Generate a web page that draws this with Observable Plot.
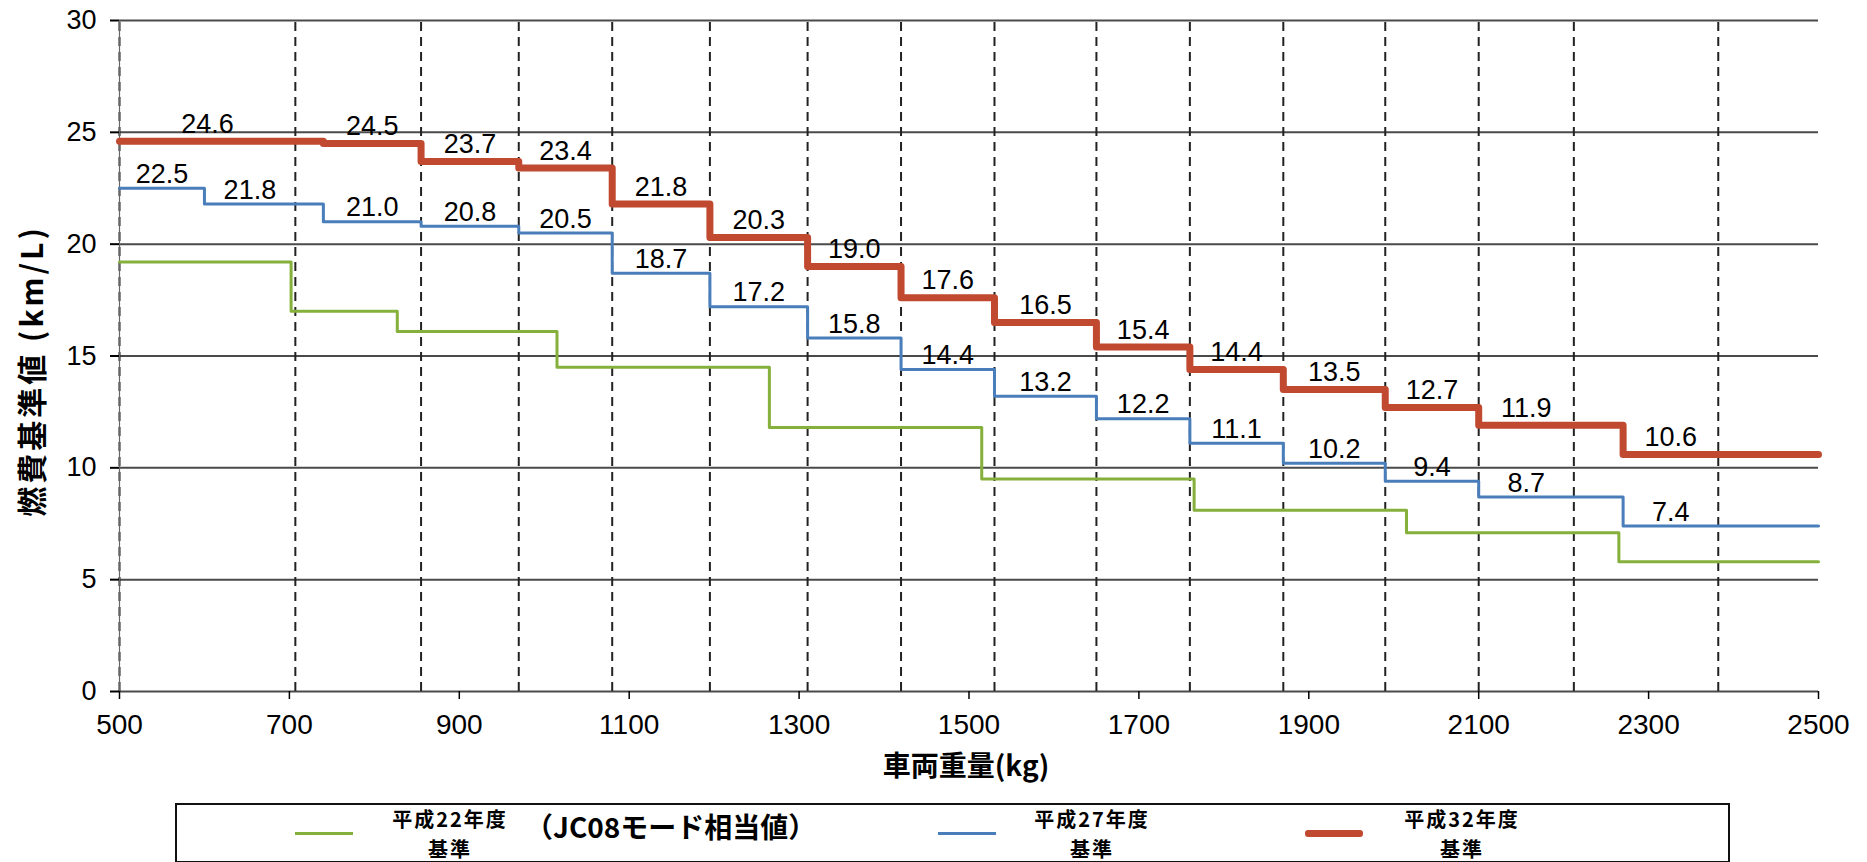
<!DOCTYPE html>
<html>
<head>
<meta charset="utf-8">
<script src="https://cdn.jsdelivr.net/npm/d3@7"></script>
<script src="https://cdn.jsdelivr.net/npm/@observablehq/plot@0.6"></script>
<style>
  html, body { margin: 0; padding: 0; background: #fff; }
  body { width: 1867px; height: 862px; overflow: hidden; position: relative; font-family: "Liberation Sans", Arial, sans-serif; }
  #chart { position: absolute; left: 0; top: 0; }
  .toprule { position: absolute; left: 0; top: 0; width: 277px; height: 3px; background: #111; }
  .ytitle { position: absolute; left: 30px; top: 371px; transform: translate(-50%, -50%) rotate(-90deg); font-family: "Noto Sans CJK JP", sans-serif; font-weight: bold; font-size: 30px; letter-spacing: 3px; white-space: nowrap; color: #000; }
  .xtitle { position: absolute; left: 966px; top: 764px; transform: translate(-50%, -50%); font-family: "Noto Sans CJK JP", sans-serif; font-weight: bold; font-size: 28px; white-space: nowrap; color: #000; }
  .legend { position: absolute; left: 175px; top: 803px; width: 1555px; height: 60px; border: 2px solid #111; box-sizing: border-box; overflow: hidden; background: #fff; }
  .sw { position: absolute; height: 3px; }
  .lab { position: absolute; transform: translateX(-50%); text-align: center; font-family: "Noto Sans CJK JP", sans-serif; font-weight: bold; font-size: 20px; line-height: 29.5px; letter-spacing: 2px; white-space: nowrap; color: #000; }
  .note { position: absolute; font-family: "Noto Sans CJK JP", sans-serif; font-weight: bold; font-size: 28px; line-height: 32px; white-space: nowrap; color: #000; }
</style>
</head>
<body>
<div class="toprule"></div>
<div id="chart"></div>
<div class="ytitle">燃費基準値 (km/L)</div>
<div class="xtitle">車両重量(kg)</div>
<div class="legend" id="legend"></div>
<script>
// ---- data ----
const h22Breaks = [500, 702, 827, 1015, 1265, 1515, 1765, 2015, 2265];
const h22Values = [19.2, 17.0, 16.1, 14.5, 11.8, 9.5, 8.1, 7.1, 5.8];
const h27Breaks = [500, 600, 740, 855, 970, 1080, 1195, 1310, 1420, 1530, 1650, 1760, 1870, 1990, 2100, 2270];
const h27Values = [22.5, 21.8, 21.0, 20.8, 20.5, 18.7, 17.2, 15.8, 14.4, 13.2, 12.2, 11.1, 10.2, 9.4, 8.7, 7.4];
const h32Breaks = [500, 740, 855, 970, 1080, 1195, 1310, 1420, 1530, 1650, 1760, 1870, 1990, 2100, 2270];
const h32Values = [24.6, 24.5, 23.7, 23.4, 21.8, 20.3, 19.0, 17.6, 16.5, 15.4, 14.4, 13.5, 12.7, 11.9, 10.6];
const dashedLines = [500, 707, 855, 970, 1080, 1195, 1310, 1420, 1530, 1650, 1760, 1870, 1990, 2100, 2212, 2382];
const xDomain = [500, 2500];
const yDomain = [0, 30];
const xTicks = [500, 700, 900, 1100, 1300, 1500, 1700, 1900, 2100, 2300, 2500];
const yTicks = [0, 5, 10, 15, 20, 25, 30];
const seriesNames = ["平成22年度\n基準", "平成27年度\n基準", "平成32年度\n基準"];
const noteText = "（JC08モード相当値）";
const colors = ["#86B03C", "#4A7EBB", "#C0492F"];

// ---- helpers ----
function steps(breaks, values) {
  const pts = breaks.map((b, i) => ({x: b, y: values[i]}));
  pts.push({x: xDomain[1], y: values[values.length - 1]});
  return pts;
}
function labels(breaks, values) {
  return breaks.map((b, i) => {
    const end = i + 1 < breaks.length ? breaks[i + 1] : xDomain[1];
    const nextDash = dashedLines.find(d => d > b) ?? end;
    const right = Math.min(end, nextDash);
    return {x: (b + right) / 2, y: values[i], t: d3.format(".1f")(values[i])};
  });
}

const s22 = steps(h22Breaks, h22Values);
const s27 = steps(h27Breaks, h27Values);
const s32 = steps(h32Breaks, h32Values);

const chart = Plot.plot({
  width: 1867,
  height: 795,
  marginLeft: 119,
  marginRight: 49,
  marginTop: 20,
  marginBottom: 104,
  x: {domain: xDomain},
  y: {domain: yDomain},
  style: {fontFamily: "'Liberation Sans', Arial, sans-serif", background: "white", color: "#000", overflow: "visible"},
  marks: [
    Plot.ruleY(yTicks, {x1: xDomain[0], x2: xDomain[1], stroke: "#4a4a4a", strokeWidth: 2}),
    Plot.ruleX(dashedLines, {y1: yDomain[0], y2: yDomain[1], stroke: "#222", strokeWidth: 2, strokeDasharray: "9,6"}),
    Plot.ruleX([xDomain[0]], {y1: yDomain[0], y2: yDomain[1], stroke: "#666", strokeWidth: 1.2}),
    Plot.axisY({ticks: yTicks, tickSize: 9, tickPadding: 14, fontSize: 27, label: null, strokeWidth: 2, tickFormat: d3.format("d")}),
    Plot.axisX({ticks: xTicks, tickSize: 8, tickPadding: 15, fontSize: 28, label: null, strokeWidth: 1.5, tickFormat: d3.format("d")}),
    Plot.line(s22, {x: "x", y: "y", curve: "step-after", stroke: colors[0], strokeWidth: 3}),
    Plot.line(s27, {x: "x", y: "y", curve: "step-after", stroke: colors[1], strokeWidth: 3}),
    Plot.line(s32, {x: "x", y: "y", curve: "step-after", stroke: colors[2], strokeWidth: 7}),
    Plot.text(labels(h27Breaks, h27Values), {x: "x", y: "y", text: "t", dy: -14, fontSize: 27, fill: "#000"}),
    Plot.text(labels(h32Breaks, h32Values), {x: "x", y: "y", text: "t", dy: -17, fontSize: 27, fill: "#000"})
  ]
});
document.getElementById("chart").appendChild(chart);

// ---- legend ----
const legend = document.getElementById("legend");
const swatchLeft = [118, 761, 1128];
const labelCenter = [273, 915, 1285];
const swatchH = [3, 3, 7];
seriesNames.forEach((name, i) => {
  const sw = document.createElement("div");
  sw.className = "sw";
  sw.style.left = swatchLeft[i] + "px";
  sw.style.width = "58px";
  sw.style.height = swatchH[i] + "px";
  sw.style.top = (28 - swatchH[i] / 2) + "px";
  sw.style.background = colors[i];
  if (i === 2) sw.style.borderRadius = "3px";
  legend.appendChild(sw);
  const lb = document.createElement("div");
  lb.className = "lab";
  lb.style.left = labelCenter[i] + "px";
  lb.style.top = "-1px";
  lb.innerHTML = name.split("\n").join("<br>");
  legend.appendChild(lb);
});
const note = document.createElement("div");
note.className = "note";
note.style.left = "348px";
note.style.top = "5px";
note.textContent = noteText;
legend.appendChild(note);
</script>
</body>
</html>
